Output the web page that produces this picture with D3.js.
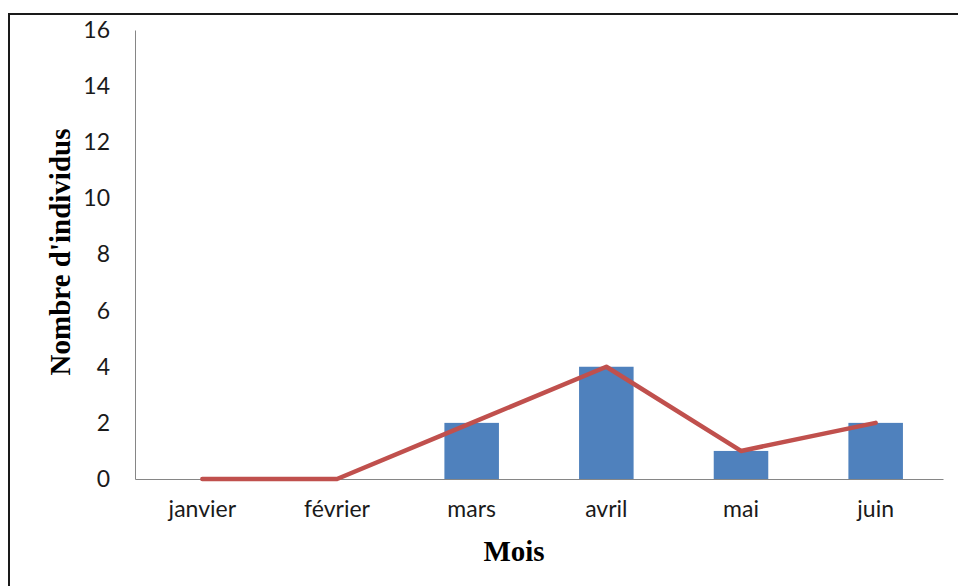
<!DOCTYPE html>
<html>
<head>
<meta charset="utf-8">
<script src="https://cdn.jsdelivr.net/npm/d3@7"></script>
<style>
  body { margin: 0; background: #fff; }
  svg { display: block; }
</style>
</head>
<body>
<svg id="chart"></svg>
<script>
const W = 958, H = 586;
const margin = {top: 30, right: 15, bottom: 107, left: 135};
const width = W - margin.left - margin.right;
const height = H - margin.top - margin.bottom;

const months = ["janvier", "février", "mars", "avril", "mai", "juin"];
const barValues = [0, 0, 2, 4, 1, 2];
const lineValues = [0, 0, 2, 4, 1, 2];
const yTicks = [0, 2, 4, 6, 8, 10, 12, 14, 16];

const svg = d3.select("#chart").attr("width", W).attr("height", H);

// cadre
svg.append("rect")
    .attr("x", 9).attr("y", 14)
    .attr("width", W).attr("height", H)
    .attr("fill", "none")
    .attr("stroke", "#1a1a1a")
    .attr("stroke-width", 2);

const g = svg.append("g")
    .attr("transform", "translate(" + margin.left + "," + margin.top + ")");

const x = d3.scaleBand().domain(months).range([0, width]);
const y = d3.scaleLinear().domain([0, 16]).range([height, 0]);

const barW = x.bandwidth() * 0.405;

g.selectAll(".bar")
    .data(months.map((m, i) => ({m: m, v: barValues[i]})).filter(d => d.v > 0))
    .enter().append("rect")
    .attr("class", "bar")
    .attr("x", d => x(d.m) + x.bandwidth() / 2 - barW / 2)
    .attr("y", d => y(d.v))
    .attr("width", barW)
    .attr("height", d => y(0) - y(d.v))
    .attr("fill", "#4F81BD");

// axes
const yAxis = g.append("g")
    .call(d3.axisLeft(y).tickValues(yTicks).tickSize(0).tickPadding(25));
yAxis.select(".domain").attr("stroke", "#868686");
yAxis.selectAll("text")
    .style("font-family", "Lato, 'Open Sans', sans-serif")
    .style("font-size", "23px")
    .attr("fill", "#1a1a1a");

const xAxis = g.append("g")
    .attr("transform", "translate(0," + height + ")")
    .call(d3.axisBottom(x).tickSize(0).tickPadding(22));
xAxis.select(".domain").attr("stroke", "#868686");
xAxis.selectAll("text")
    .style("font-family", "Lato, 'Open Sans', sans-serif")
    .style("font-size", "23px")
    .attr("fill", "#1a1a1a");

const line = d3.line()
    .x((d, i) => x(months[i]) + x.bandwidth() / 2)
    .y(d => y(d));

g.append("path")
    .datum(lineValues)
    .attr("d", line)
    .attr("fill", "none")
    .attr("stroke", "#C0504D")
    .attr("stroke-width", 4.5)
    .attr("stroke-linecap", "round")
    .attr("stroke-linejoin", "round");

// titres
svg.append("text")
    .attr("x", margin.left + width / 2 - 25)
    .attr("y", 561)
    .attr("text-anchor", "middle")
    .style("font-family", "'Liberation Serif', 'Times New Roman', serif")
    .style("font-weight", "bold")
    .style("font-size", "29px")
    .attr("fill", "#000")
    .text("Mois");

svg.append("text")
    .attr("transform", "translate(70,252) rotate(-90)")
    .attr("text-anchor", "middle")
    .style("font-family", "'Liberation Serif', 'Times New Roman', serif")
    .style("font-weight", "bold")
    .style("font-size", "29px")
    .attr("fill", "#000")
    .text("Nombre d'individus");
</script>
</body>
</html>
